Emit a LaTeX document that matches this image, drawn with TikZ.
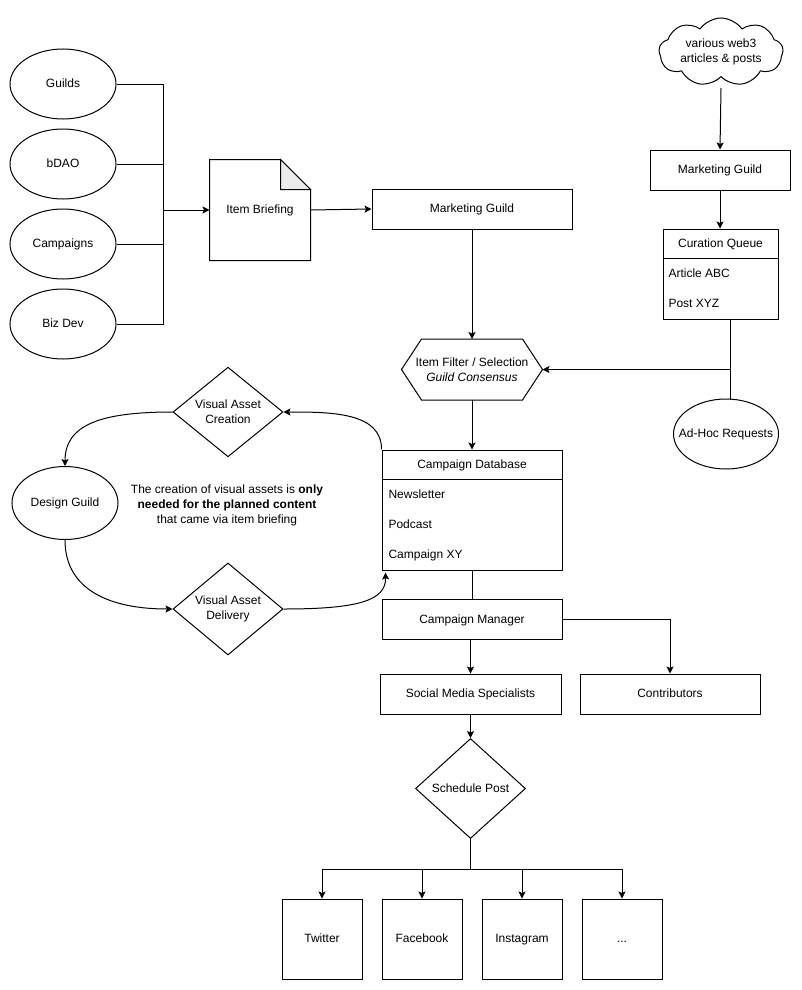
\documentclass[tikz,border=0pt]{standalone}
\usepackage{fontspec}
\setmainfont{Liberation Sans}
\usetikzlibrary{arrows.meta,shapes.geometric,shapes.symbols,calc}
\begin{document}
\begin{tikzpicture}[x=1pt,y=-1pt,
  font=\fontsize{12}{15}\selectfont, line width=1pt, line join=miter,
  box/.style={draw, rectangle, minimum width=#1, minimum height=40, inner sep=0, text height=9.4pt, text depth=2.4pt},
  oval/.style={draw, ellipse, minimum width=106, minimum height=70, inner sep=0},
  olab/.style={inner sep=0, text height=9.4pt, text depth=2.4pt},
  dia/.style={draw, diamond, minimum width=110, minimum height=#1, inner sep=0, align=center},
  sq/.style={draw, rectangle, minimum width=80, minimum height=80, inner sep=0, text height=9.4pt, text depth=2.4pt},
  item/.style={anchor=west, inner sep=0, text height=9.4pt, text depth=2.4pt},
  arr/.style={-{Stealth[length=7pt,width=7pt,inset=1.5pt]}}]
\useasboundingbox (0,0) rectangle (801,990);

% left sources
\node[oval, label={[olab, name=guildsT]center:Guilds}] (guilds) at (63,84) {};
\node[oval, label={[olab, name=bdaoT]center:bDAO}] (bdao) at (63,164) {};
\node[oval, label={[olab, name=campsT]center:Campaigns}] (camps) at (63,244) {};
\node[oval, label={[olab, name=bizT]center:Biz Dev}] (biz) at (63,324) {};
\coordinate (lb) at (163,210);
\draw (guilds.east) -| (lb);
\draw (biz.east) -| (lb);
\draw (bdao.east) -- (bdao.east -| lb);
\draw (camps.east) -- (camps.east -| lb);

% item briefing
\node[minimum width=100, minimum height=100, inner sep=0, text height=9.4pt, text depth=2.4pt] (ib) at (260,210) {Item Briefing};
\draw (ib.south west) -- (ib.north west) -- ([xshift=-30pt]ib.north east)
  -- ([yshift=-30pt]ib.north east) -- (ib.south east) -- cycle;
\draw[fill=black!8] ([xshift=-30pt]ib.north east) -- ([xshift=-30pt,yshift=-30pt]ib.north east)
  -- ([yshift=-30pt]ib.north east) -- cycle;
\draw[arr] (lb) -- (ib.west);

% marketing guild
\node[box=200] (mg) at (472,209) {Marketing Guild};
\draw[arr] (ib.east) -- (mg.west);

% right column
\node[cloud, draw, cloud puffs=9, cloud puff arc=110, aspect=1.8, minimum width=124, minimum height=68, inner sep=0,
  label={[align=center, inner sep=0, name=webT]center:various web3\\articles \& posts}] (web) at (721,52) {};
\node[box=140] (mg2) at (720,170) {Marketing Guild};
\draw[arr] (web.south |- 0,88) -- (mg2.north);
\node[draw, rectangle, minimum width=115, minimum height=90, inner sep=0] (cq) at (720.5,274) {};
\draw (cq.north west) ++(0,30) -- ++(115,0);
\node[olab] (cqh) at (720.5,244) {Curation Queue};
\node[item] (cq1) at (668,274) {Article ABC};
\node[item] (cq2) at (668,304) {Post XYZ};
\draw[arr] (mg2.south) -- (cq.north -| mg2.south);

\node[oval, minimum width=105, label={[olab, name=adhocT]center:Ad-Hoc Requests}] (adhoc) at (726,434) {};

% hexagon
\node[minimum width=140, minimum height=60, inner sep=0, align=center] (hex) at (472,369.5)
  {Item Filter / Selection\\\textit{Guild Consensus}};
\draw (hex.west) -- ([xshift=20pt]hex.north west) -- ([xshift=-20pt]hex.north east)
  -- (hex.east) -- ([xshift=-20pt]hex.south east) -- ([xshift=20pt]hex.south west) -- cycle;
\draw[arr] (mg.south) -- (hex.north);
\coordinate (j) at (730,369.5);
\draw (cq.south -| j) -- ($(adhoc.north -| j)+(0,1)$);
\draw[arr] (j) -- (hex.east);

% campaign database
\node[draw, rectangle, minimum width=180, minimum height=120, inner sep=0] (cdb) at (472,510) {};
\draw (cdb.north west) ++(0,30) -- ++(180,0);
\node[olab] (cdbh) at (472,465) {Campaign Database};
\node[item] (cdb1) at (388,495) {Newsletter};
\node[item] (cdb2) at (388,525) {Podcast};
\node[item] (cdb3) at (388,555) {Campaign XY};
\draw[arr] (hex.south) -- (cdb.north);

% visual asset loop
\node[dia=80] (vac) at (228,412) {Visual Asset\\Creation};
\node[dia=80] (vad) at (228,609) {Visual Asset\\Delivery};
\node[oval, minimum height=73, label={[olab, name=dgT]center:Design Guild}] (dg) at (65,503) {};
\node[align=center] (note) at (227,505) {The creation of visual assets is \textbf{only}\\\textbf{needed for the planned content}\\that came via item briefing};
\draw[arr] (cdb.north west) .. controls (382,412) and (330,412) .. (vac.east);
\draw[arr] (vac.west) .. controls (100,412) and (65,425) .. (dg.north);
\draw[arr] (dg.south) .. controls (65,590) and (110,609) .. (vad.west);
\draw[arr] (vad.east) .. controls (360,609) and (386,600) .. ($(cdb.south west)+(4,2)$);

% campaign manager
\node[box=180] (cm) at (472,619.5) {Campaign Manager};
\draw (cdb.south) -- (cm.north);
\node[box=181] (sms) at (470.5,694) {Social Media Specialists};
\node[box=180] (con) at (670,694) {Contributors};
\draw[arr] (cm.south -| sms.north) -- (sms.north);
\draw[arr] (cm.east) -| (con.north);

% schedule
\node[dia=100] (sp) at (470.5,788.5) {Schedule Post};
\draw[arr] (sms.south) -- (sp.north);
\coordinate (bus) at (470.5,869);
\node[sq] (tw) at (322,939) {Twitter};
\node[sq] (fb) at (422,939) {Facebook};
\node[sq] (ig) at (522,939) {Instagram};
\node[sq] (dots) at (622,939) {...};
\draw (sp.south) -- (bus);
\draw (tw.north |- bus) -- (dots.north |- bus);
\draw[arr] (tw.north |- bus) -- (tw.north);
\draw[arr] (fb.north |- bus) -- (fb.north);
\draw[arr] (ig.north |- bus) -- (ig.north);
\draw[arr] (dots.north |- bus) -- (dots.north);
\end{tikzpicture}
\end{document}
